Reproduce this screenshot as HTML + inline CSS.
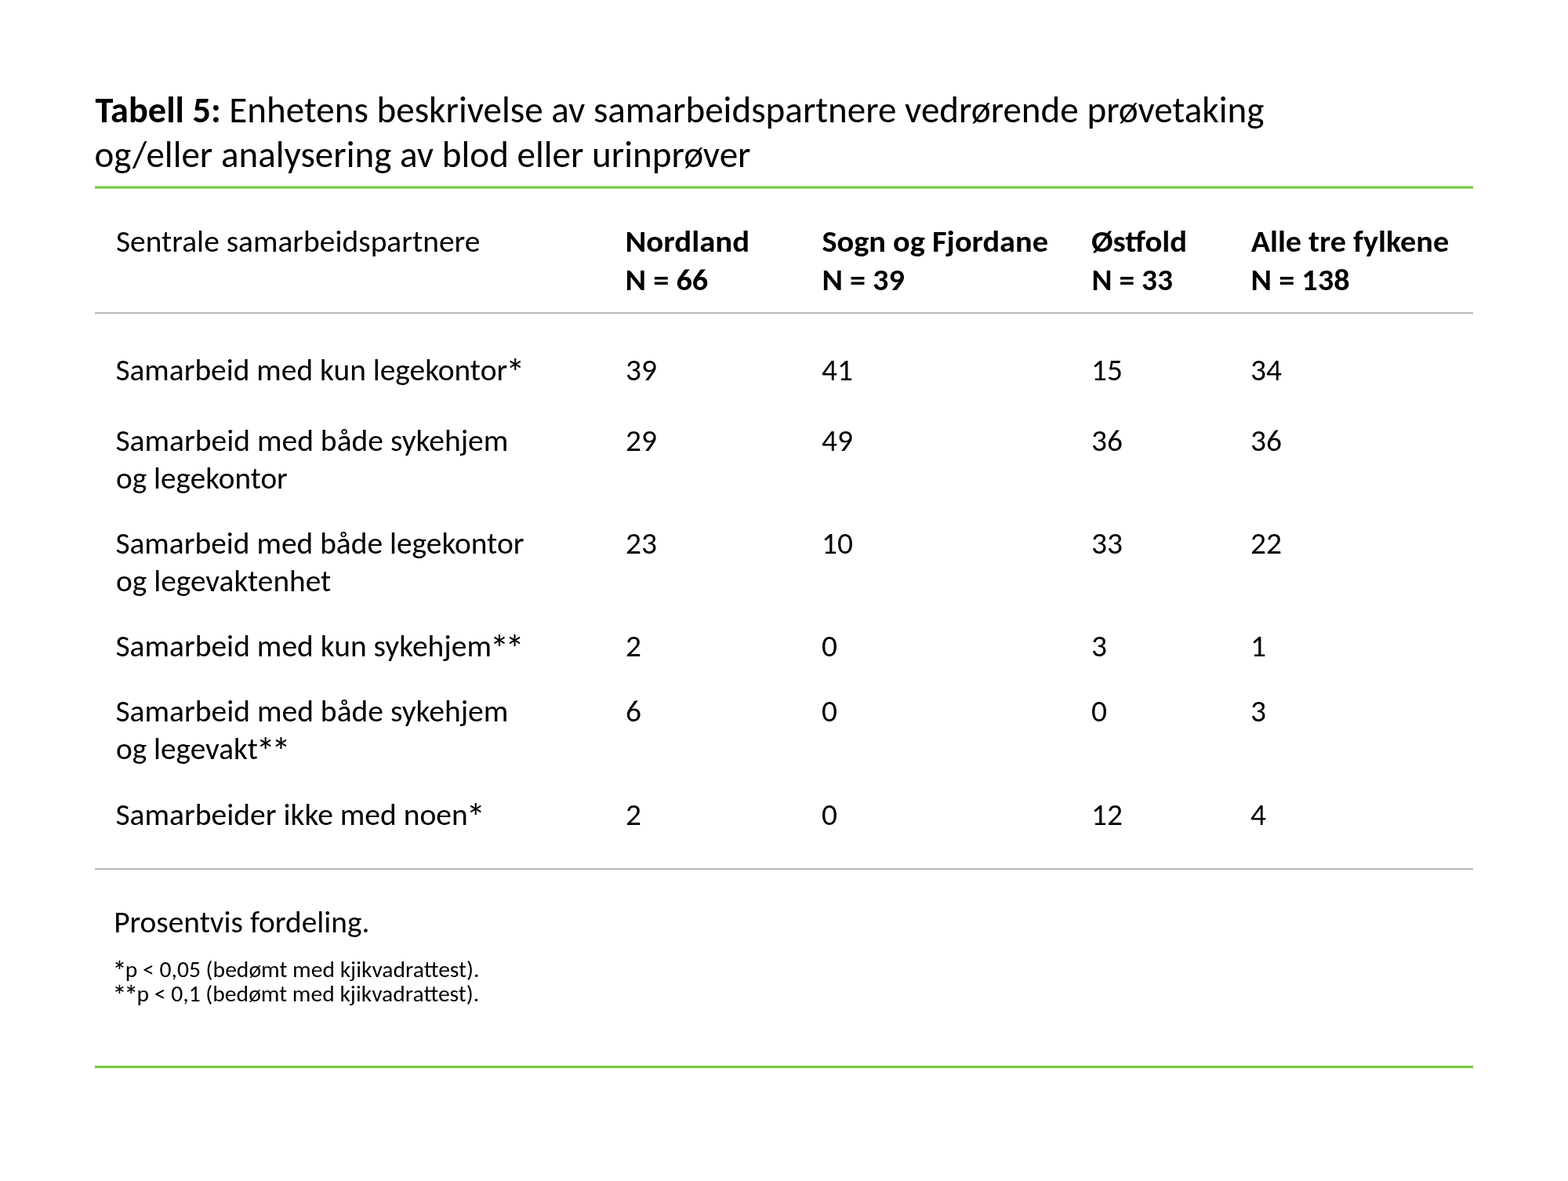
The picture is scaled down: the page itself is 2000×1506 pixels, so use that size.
<!DOCTYPE html>
<html lang="no">
<head>
<meta charset="utf-8">
<title>Tabell 5</title>
<style>
html,body{margin:0;padding:0;background:#fff;}
body{width:2000px;height:1506px;overflow:hidden;}
svg{display:block;}
text{font-family:Carlito, 'Liberation Sans', sans-serif;font-size-adjust:0.4775;fill:#000;font-kerning:normal;font-variant-ligatures:common-ligatures;white-space:pre;}
.t{font-size:47.0px;}
.b{font-size:39.4px;}
.s{font-size:29.55px;}
.h{font-weight:bold;}
.a{font-size:1.25em;}
.g{fill:#7ac943;}
.k{fill:#a8a8a8;}
</style>
</head>
<body>
<svg width="2000" height="1506" viewBox="0 0 2000 1506">
<rect x="0" y="0" width="2000" height="1506" fill="#fff"/>
<rect class="g" x="121" y="237.3" width="1758" height="3.3"/>
<rect class="k" x="121" y="398.4" width="1758" height="1.6"/>
<rect class="k" x="121" y="1107.4" width="1758" height="1.6"/>
<rect class="g" x="121" y="1358.9" width="1758" height="3.2"/>
<text class="t" x="121.6" y="156" textLength="1490.80" lengthAdjust="spacingAndGlyphs"><tspan class="h">Tabell 5:</tspan> Enhetens beskrivelse av samarbeidspartnere vedrørende prøvetaking</text>
<text class="t" x="120.4" y="212.6" textLength="837.12" lengthAdjust="spacingAndGlyphs">og/eller analysering av blod eller urinprøver</text>
<text class="b" x="148.0" y="321" textLength="464.37" lengthAdjust="spacingAndGlyphs">Sentrale samarbeidspartnere</text>
<text class="b h" x="797.5" y="321" textLength="158.52" lengthAdjust="spacingAndGlyphs">Nordland</text>
<text class="b h" x="797.52" y="369.5" textLength="105.76" lengthAdjust="spacingAndGlyphs">N = 66</text>
<text class="b h" x="1048.46" y="321" textLength="288.52" lengthAdjust="spacingAndGlyphs">Sogn og Fjordane</text>
<text class="b h" x="1048.43" y="369.5" textLength="105.35" lengthAdjust="spacingAndGlyphs">N = 39</text>
<text class="b h" x="1391.95" y="321" textLength="122.04" lengthAdjust="spacingAndGlyphs">Østfold</text>
<text class="b h" x="1392.57" y="369.5" textLength="103.39" lengthAdjust="spacingAndGlyphs">N = 33</text>
<text class="b h" x="1595.7" y="321" textLength="252.43" lengthAdjust="spacingAndGlyphs">Alle tre fylkene</text>
<text class="b h" x="1595.63" y="369.5" textLength="125.95" lengthAdjust="spacingAndGlyphs">N = 138</text>
<text class="b" x="147.4" y="485" textLength="522.03" lengthAdjust="spacingAndGlyphs">Samarbeid med kun legekontor<tspan class="a" dx="-2.30" dy="6.60">*</tspan></text>
<text class="b" x="798" y="485" textLength="39.92" lengthAdjust="spacingAndGlyphs">39</text>
<text class="b" x="1048" y="485" textLength="39.92" lengthAdjust="spacingAndGlyphs">41</text>
<text class="b" x="1392" y="485" textLength="39.92" lengthAdjust="spacingAndGlyphs">15</text>
<text class="b" x="1595" y="485" textLength="39.92" lengthAdjust="spacingAndGlyphs">34</text>
<text class="b" x="147.4" y="575" textLength="500.97" lengthAdjust="spacingAndGlyphs">Samarbeid med både sykehjem</text>
<text class="b" x="148.0" y="623" textLength="218.79" lengthAdjust="spacingAndGlyphs">og legekontor</text>
<text class="b" x="798" y="575" textLength="39.92" lengthAdjust="spacingAndGlyphs">29</text>
<text class="b" x="1048" y="575" textLength="39.92" lengthAdjust="spacingAndGlyphs">49</text>
<text class="b" x="1392" y="575" textLength="39.92" lengthAdjust="spacingAndGlyphs">36</text>
<text class="b" x="1595" y="575" textLength="39.92" lengthAdjust="spacingAndGlyphs">36</text>
<text class="b" x="147.4" y="706" textLength="521.06" lengthAdjust="spacingAndGlyphs">Samarbeid med både legekontor</text>
<text class="b" x="148.0" y="754" textLength="274.31" lengthAdjust="spacingAndGlyphs">og legevaktenhet</text>
<text class="b" x="798" y="706" textLength="39.92" lengthAdjust="spacingAndGlyphs">23</text>
<text class="b" x="1048" y="706" textLength="39.92" lengthAdjust="spacingAndGlyphs">10</text>
<text class="b" x="1392" y="706" textLength="39.92" lengthAdjust="spacingAndGlyphs">33</text>
<text class="b" x="1595" y="706" textLength="39.92" lengthAdjust="spacingAndGlyphs">22</text>
<text class="b" x="147.4" y="837" textLength="521.58" lengthAdjust="spacingAndGlyphs">Samarbeid med kun sykehjem<tspan class="a" dx="-2.30" dy="6.60">*</tspan><tspan class="a" dx="-4.91">*</tspan></text>
<text class="b" x="798" y="837" textLength="19.97" lengthAdjust="spacingAndGlyphs">2</text>
<text class="b" x="1048" y="837" textLength="19.97" lengthAdjust="spacingAndGlyphs">0</text>
<text class="b" x="1392" y="837" textLength="19.97" lengthAdjust="spacingAndGlyphs">3</text>
<text class="b" x="1595" y="837" textLength="19.97" lengthAdjust="spacingAndGlyphs">1</text>
<text class="b" x="147.4" y="920" textLength="500.97" lengthAdjust="spacingAndGlyphs">Samarbeid med både sykehjem</text>
<text class="b" x="148.0" y="968" textLength="222.64" lengthAdjust="spacingAndGlyphs">og legevakt<tspan class="a" dx="-2.30" dy="6.60">*</tspan><tspan class="a" dx="-4.91">*</tspan></text>
<text class="b" x="798" y="920" textLength="19.97" lengthAdjust="spacingAndGlyphs">6</text>
<text class="b" x="1048" y="920" textLength="19.97" lengthAdjust="spacingAndGlyphs">0</text>
<text class="b" x="1392" y="920" textLength="19.97" lengthAdjust="spacingAndGlyphs">0</text>
<text class="b" x="1595" y="920" textLength="19.97" lengthAdjust="spacingAndGlyphs">3</text>
<text class="b" x="147.4" y="1052" textLength="471.70" lengthAdjust="spacingAndGlyphs">Samarbeider ikke med noen<tspan class="a" dx="-2.30" dy="6.60">*</tspan></text>
<text class="b" x="798" y="1052" textLength="19.97" lengthAdjust="spacingAndGlyphs">2</text>
<text class="b" x="1048" y="1052" textLength="19.97" lengthAdjust="spacingAndGlyphs">0</text>
<text class="b" x="1392" y="1052" textLength="39.92" lengthAdjust="spacingAndGlyphs">12</text>
<text class="b" x="1595" y="1052" textLength="19.97" lengthAdjust="spacingAndGlyphs">4</text>
<text class="b" x="145.2" y="1189" textLength="326.28" lengthAdjust="spacingAndGlyphs">Prosentvis fordeling.</text>
<text class="s" x="143.39" y="1246" textLength="468.09" lengthAdjust="spacingAndGlyphs"><tspan class="a" dy="4.95">*</tspan><tspan dx="-1.95" dy="-4.95">p &lt; 0,05 (bedømt med kjikvadrattest).</tspan></text>
<text class="s" x="143.39" y="1277" textLength="467.84" lengthAdjust="spacingAndGlyphs"><tspan class="a" dy="4.95">*</tspan><tspan class="a" dx="-3.68">*</tspan><tspan dx="-1.95" dy="-4.95">p &lt; 0,1 (bedømt med kjikvadrattest).</tspan></text>
</svg>
</body>
</html>
